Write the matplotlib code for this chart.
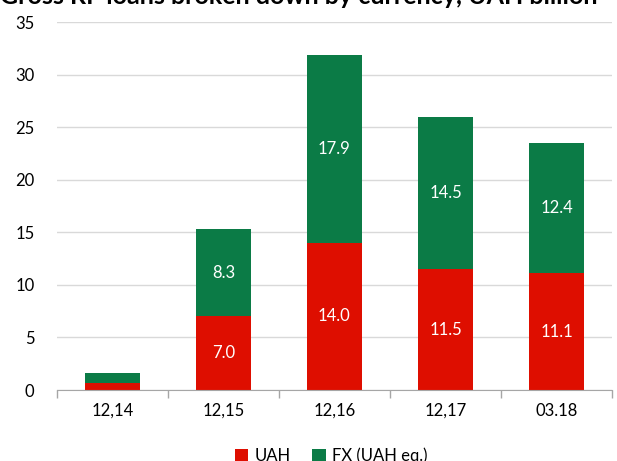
import matplotlib
matplotlib.use("Agg")
import matplotlib.pyplot as plt
import numpy as np

plt.rcParams['font.family'] = ['Lato', 'DejaVu Sans']

categories = ["12,14", "12,15", "12,16", "12,17", "03.18"]
uah = [0.7, 7.0, 14.0, 11.5, 11.1]
fx = [0.9, 8.3, 17.9, 14.5, 12.4]
show_labels = [False, True, True, True, True]

red = "#DE0E00"
green = "#0B7B46"

fig = plt.figure(figsize=(6.17, 4.61), dpi=100)
ax = fig.add_axes([0.092, 0.154, 0.9, 0.798])

x = np.arange(len(categories))
w = 0.5
ax.bar(x, uah, w, color=red, label="UAH", zorder=3)
ax.bar(x, fx, w, bottom=uah, color=green, label="FX (UAH eq.)", zorder=3)

for i in range(len(categories)):
    if show_labels[i]:
        ax.text(x[i], uah[i] / 2, f"{uah[i]:.1f}", ha="center", va="center",
                color="white", fontsize=12, zorder=4)
        ax.text(x[i], uah[i] + fx[i] / 2, f"{fx[i]:.1f}", ha="center", va="center",
                color="white", fontsize=12, zorder=4)

ax.set_ylim(0, 35)
ax.set_xlim(-0.5, len(categories) - 0.5)
ax.set_yticks(np.arange(0, 36, 5))
ax.set_xticks(x)
ax.set_xticklabels(categories)
ax.set_xticks(np.arange(-0.5, len(categories), 1), minor=True)
ax.tick_params(axis="x", which="major", length=0, labelsize=12, pad=9)
ax.tick_params(axis="x", which="minor", length=6, color="#A6A6A6", width=1)
ax.tick_params(axis="y", length=0, labelsize=12, pad=16)
ax.grid(axis="y", color="#D9D9D9", linewidth=1, zorder=0)
for s in ["top", "right", "left"]:
    ax.spines[s].set_visible(False)
ax.spines["bottom"].set_color("#A6A6A6")
ax.spines["bottom"].set_zorder(5)

fig.legend(loc="center", bbox_to_anchor=(0.537, 0.011), ncol=2, frameon=False,
           fontsize=12, handlelength=0.8, handleheight=0.8, columnspacing=1.3,
           handletextpad=0.4)

fig.text(0.0, 0.991, "Gross RF loans broken down by currency, UAH billion",
         ha="left", va="baseline", fontsize=18, fontweight="bold")

fig.savefig("out.png", dpi=100)
